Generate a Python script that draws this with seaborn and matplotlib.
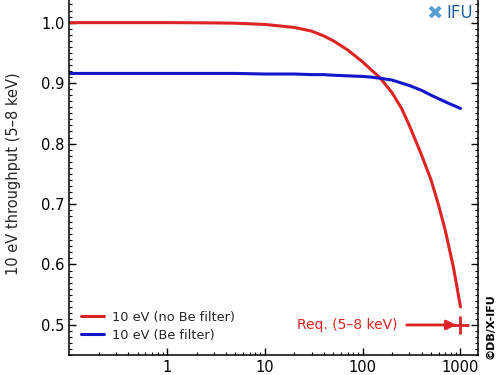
import matplotlib
matplotlib.use("Agg")
import matplotlib.pyplot as plt
import seaborn as sns
import pandas as pd
from matplotlib.ticker import FormatStrFormatter, LogLocator, MultipleLocator, NullFormatter

# ---- data ----
energies = [0.1, 1, 3, 5, 10, 20, 30, 40, 50, 70, 100, 120, 150, 200, 250, 300,
            400, 500, 600, 700, 850, 1000]
no_be = [1.000, 1.000, 0.9995, 0.999, 0.997, 0.992, 0.986, 0.978, 0.970, 0.955,
         0.935, 0.923, 0.909, 0.884, 0.858, 0.830, 0.781, 0.740, 0.697, 0.656,
         0.594, 0.530]
be = [0.916, 0.916, 0.916, 0.916, 0.915, 0.915, 0.914, 0.914, 0.913, 0.912,
      0.911, 0.910, 0.908, 0.905, 0.900, 0.896, 0.888, 0.880, 0.874, 0.869,
      0.863, 0.858]
series_names = ["10 eV (no Be filter)", "10 eV (Be filter)"]
req_x = [1000]
req_y = [0.5]
req_label = "Req. (5–8 keV)"
xtick_vals = [1, 10, 100, 1000]
xtick_labels = ["1", "10", "100", "1000"]
ytick_vals = [0.5, 0.6, 0.7, 0.8, 0.9, 1.0]

RED = "#dc2424"
BLUE = "#1515cc"

df = pd.DataFrame({
    "x": energies * 2,
    "y": no_be + be,
    "series": [series_names[0]] * len(energies) + [series_names[1]] * len(energies),
})

sns.set_style("ticks")
plt.rcParams["font.family"] = ["DejaVu Sans"]

fig = plt.figure(figsize=(5, 3.75), dpi=100)
ax = fig.add_axes([0.1386, 0.0528, 0.8168, 0.9675])

sns.lineplot(data=df, x="x", y="y", hue="series", palette=[RED, BLUE],
             linewidth=2.2, ax=ax, legend=True)

ax.set_xscale("log")
ax.set_xlim(0.1, 1500)
ax.set_ylim(0.45, 1.05)
ax.set_xlabel("")
ax.set_ylabel("10 eV throughput (5–8 keV)", fontsize=10.5, labelpad=14)

ax.set_xticks(xtick_vals)
ax.set_xticklabels(xtick_labels)
ax.xaxis.set_minor_locator(LogLocator(base=10, subs=range(2, 10), numticks=20))
ax.xaxis.set_minor_formatter(NullFormatter())
ax.set_yticks(ytick_vals)
ax.yaxis.set_major_formatter(FormatStrFormatter("%.1f"))
ax.yaxis.set_minor_locator(MultipleLocator(0.01))

ax.tick_params(which="both", direction="in", top=True, right=True, colors="black",
               labelsize=10.5)
ax.tick_params(which="major", length=5, width=1.0)
ax.tick_params(which="minor", length=2.5, width=0.8)
for s in ax.spines.values():
    s.set_linewidth(1.1)
    s.set_color("black")

leg = ax.legend(loc="lower left", bbox_to_anchor=(0.0, 0.005), frameon=False,
                fontsize=9.3, handlelength=1.8, handletextpad=0.6, labelspacing=0.4)

# requirement marker
ax.plot(req_x, req_y, marker="+", ms=13, mew=2, color=RED, linestyle="none")
ax.annotate(req_label, xy=(req_x[0], req_y[0]), xytext=(229, req_y[0]),
            ha="right", va="center", color=RED, fontsize=10,
            arrowprops=dict(arrowstyle="-|>", color=RED, lw=2, shrinkA=4, shrinkB=3,
                            mutation_scale=14))

# logo + copyright
fig.text(0.870, 0.966, "✖", ha="center", va="center", color="#5a9fd4", fontsize=14)
fig.text(0.946, 0.966, "IFU", ha="right", va="center", color="#1f5f9e", fontsize=12)
fig.text(0.981, 0.043, "©DB/X-IFU", rotation=90, ha="center", va="bottom",
         fontsize=8, fontweight="bold", color="black")

fig.savefig("out.png", dpi=100)
